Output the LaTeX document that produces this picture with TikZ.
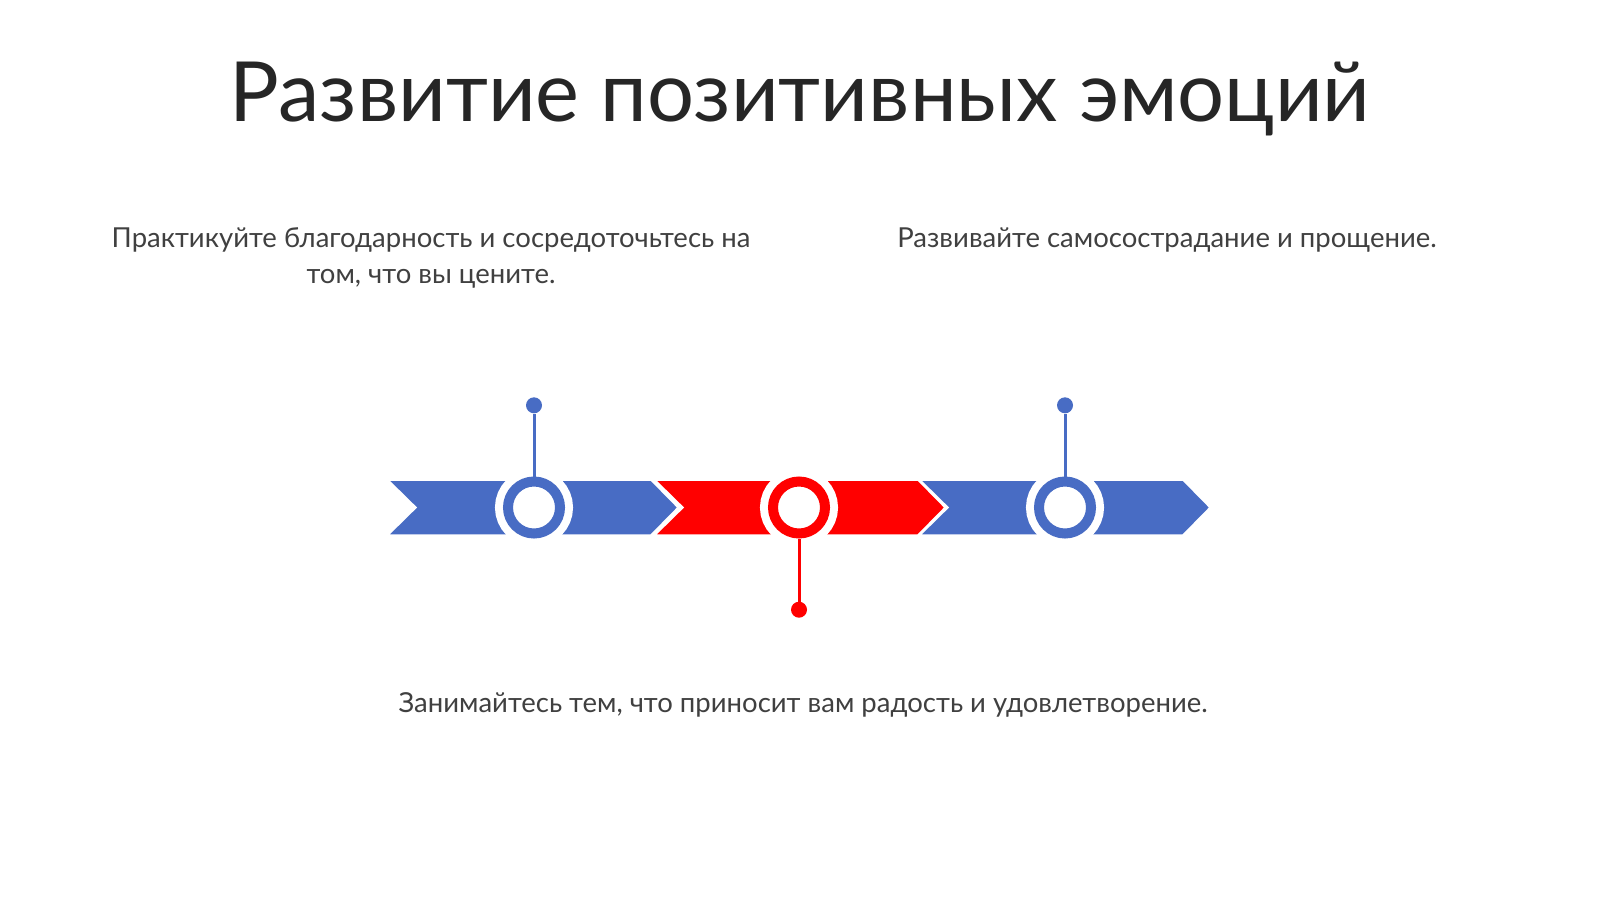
\documentclass[tikz,border=0pt]{standalone}
\usepackage{fontspec}
\setmainfont{Lato}
\usetikzlibrary{positioning}

\definecolor{bandblue}{RGB}{72,108,196}
\definecolor{bandred}{RGB}{255,0,0}
\definecolor{textgray}{RGB}{64,64,64}

\begin{document}
\begin{tikzpicture}[x=1pt,y=-1pt,node distance=63pt,
  ring/.style={circle,minimum size=52pt,inner sep=0pt,fill=white,draw=#1,line width=10pt,
    preaction={draw=white,line width=26pt}},
  dot/.style={circle,minimum size=16pt,inner sep=0pt,fill=#1},
  stem/.style={draw=#1,line width=3pt},
  txt/.style={text=textgray,font=\fontsize{27.5}{36}\selectfont,anchor=base,align=center}]
  \useasboundingbox[fill=white] (0,0) rectangle (1600,899);

  % chevron band
  \foreach \x/\c in {388/bandblue,655/bandred,920/bandblue}
    \filldraw[fill=\c,draw=white,line width=1.5pt]
      (\x,480) -- (\x+263,480) -- (\x+290,507.5) -- (\x+263,535) -- (\x,535) -- (\x+28,507.5) -- cycle;

  \node (A) [ring=bandblue] at (534,507.5) {};
  \node (B) [ring=bandred]  at (799,507.5) {};
  \node (C) [ring=bandblue] at (1065,507.5) {};
  \node (a) [dot=bandblue, above=of A] {};
  \node (b) [dot=bandred,  below=of B] {};
  \node (c) [dot=bandblue, above=of C] {};
  \path (a) edge[stem=bandblue] (A)
        (b) edge[stem=bandred]  (B)
        (c) edge[stem=bandblue] (C);

  \node (T) [anchor=base,text=black!85,font=\fontsize{83}{99}\selectfont] at (800,121) {Развитие позитивных эмоций};
  % two-line label: base is the last line
  \node (tA) [txt] at (431,283) {Практикуйте благодарность и сосредоточьтесь на\\том, что вы цените.};
  \node (tC) [txt] at (1167,247) {Развивайте самосострадание и прощение.};
  \node (tB) [txt] at (803,712) {Занимайтесь тем, что приносит вам радость и удовлетворение.};
\end{tikzpicture}
\end{document}
